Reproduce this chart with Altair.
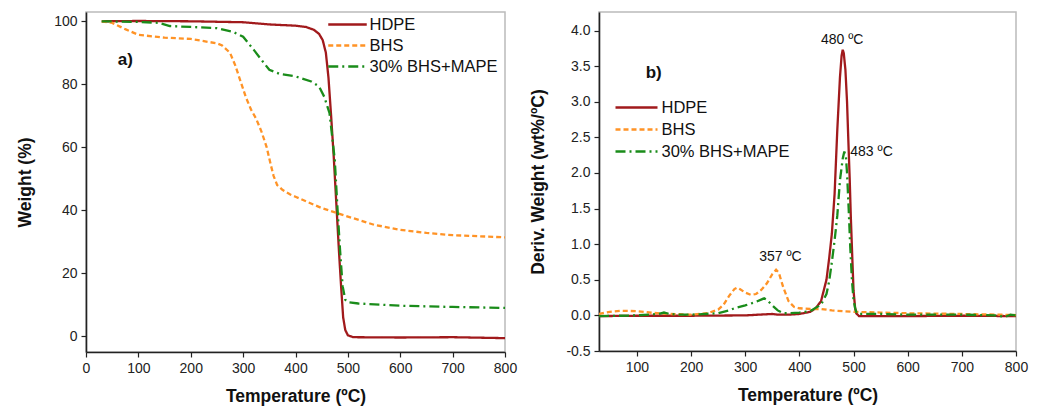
import altair as alt
import pandas as pd

SERIES = ["HDPE", "BHS", "30% BHS+MAPE"]
COLORS = ["#A11A1C", "#FF9326", "#1A8C1A"]
DASHES = [[1, 0], [5, 3], [10, 4, 2, 4]]

# ---- a) TGA: weight (%) vs temperature ----
tga_hdpe_T = [30, 100, 200, 300, 350, 400, 420, 435, 445, 452, 458, 463, 468, 473, 478, 483, 487, 491, 495, 500, 510, 600, 700, 800]
tga_hdpe_W = [100, 100.1, 100, 99.7, 99.0, 98.6, 98.2, 97.3, 96, 94, 90, 82, 70, 57, 42, 27, 16, 6, 2, 0.3, -0.3, -0.4, -0.3, -0.6]

tga_bhs_T = [30, 50, 75, 100, 150, 200, 250, 260, 275, 285, 295, 305, 315, 325, 335, 345, 352, 358, 365, 375, 390, 400, 450, 500, 550, 600, 650, 700, 800]
tga_bhs_W = [100, 99.5, 97.5, 95.7, 94.8, 94.4, 93, 92.3, 90, 86, 81, 76, 72, 69, 65, 60, 55, 51, 48, 46.5, 45, 44.3, 40.7, 38, 35.4, 33.8, 32.8, 32.1, 31.4]

tga_mix_T = [30, 100, 140, 160, 200, 250, 280, 300, 320, 340, 350, 370, 400, 430, 445, 455, 465, 470, 475, 480, 485, 490, 495, 500, 520, 600, 700, 800]
tga_mix_W = [100, 99.8, 99.5, 98.5, 98.2, 97.8, 96.7, 95.1, 91, 86.7, 84.6, 83.3, 82.5, 80.9, 79.3, 76, 70.8, 63.4, 56, 41, 27.5, 15.9, 11.6, 10.8, 10.4, 9.7, 9.3, 9.0]

# ---- b) DTG: derivative weight vs temperature ----
dtg_hdpe_T = [30, 100, 200, 300, 350, 360, 380, 400, 420, 430, 440, 450, 455, 460, 465, 470, 475, 478, 480, 482, 485, 488, 490, 493, 495, 498, 500, 503, 505, 510, 520, 600, 700, 800]
dtg_hdpe_V = [-0.01, -0.005, -0.005, 0.0, 0.02, 0.01, 0.01, 0.02, 0.05, 0.1, 0.2, 0.5, 0.8, 1.15, 1.7, 2.6, 3.35, 3.65, 3.73, 3.68, 3.45, 3.0, 2.55, 1.9, 1.38, 0.75, 0.35, 0.1, 0.03, -0.01, -0.01, -0.01, -0.005, -0.01]

dtg_bhs_T = [30, 50, 70, 100, 130, 160, 200, 230, 250, 260, 270, 280, 285, 290, 300, 310, 320, 330, 340, 350, 357, 362, 370, 380, 390, 400, 420, 440, 460, 500, 550, 600, 700, 800]
dtg_bhs_V = [0.02, 0.05, 0.065, 0.06, 0.035, 0.02, 0.01, 0.03, 0.08, 0.15, 0.27, 0.37, 0.39, 0.37, 0.32, 0.29, 0.3, 0.36, 0.45, 0.58, 0.64, 0.6, 0.4, 0.2, 0.12, 0.1, 0.09, 0.09, 0.07, 0.05, 0.04, 0.03, 0.02, 0.005]

dtg_mix_T = [30, 100, 140, 150, 160, 180, 200, 250, 270, 280, 300, 320, 335, 340, 350, 360, 370, 380, 400, 420, 440, 450, 455, 460, 465, 470, 475, 480, 483, 486, 488, 491, 494, 497, 500, 503, 506, 510, 550, 600, 700, 760, 780, 790, 800]
dtg_mix_V = [-0.01, 0.0, 0.02, 0.04, 0.02, 0.01, 0.01, 0.03, 0.07, 0.1, 0.14, 0.19, 0.24, 0.22, 0.14, 0.07, 0.03, 0.03, 0.04, 0.06, 0.15, 0.3, 0.48, 0.75, 1.05, 1.4, 1.9, 2.2, 2.3, 2.22, 2.0, 1.5, 0.95, 0.5, 0.22, 0.1, 0.03, 0.02, 0.02, 0.01, 0.01, 0.0, -0.02, 0.01, 0.0]

dtg_ticks = [-0.5, 0.0, 0.5, 1.0, 1.5, 2.0, 2.5, 3.0, 3.5, 4.0]

# ---- annotations ----
peak_center_T = [479, 365]
peak_center_V = [3.86, 0.82]
peak_center_text = ["480 ºC", "357 ºC"]
peak_left_T = [494]
peak_left_V = [2.29]
peak_left_text = ["483 ºC"]

FONT = "Liberation Sans"
LEGEND_LINE = "M-1.75,0H1.75"


def long_df(pairs, ycol):
    rows = []
    for name, (ts, vs) in zip(SERIES, pairs):
        for i, (t, v) in enumerate(zip(ts, vs)):
            rows.append({"Sample": name, "T": t, ycol: v, "i": i})
    return pd.DataFrame(rows)


tga = long_df([(tga_hdpe_T, tga_hdpe_W), (tga_bhs_T, tga_bhs_W), (tga_mix_T, tga_mix_W)], "W")
dtg = long_df([(dtg_hdpe_T, dtg_hdpe_V), (dtg_bhs_T, dtg_bhs_V), (dtg_mix_T, dtg_mix_V)], "V")


def legend(x, y, rp, size, lo):
    return alt.Legend(
        title=None, orient="none", legendX=x, legendY=y,
        symbolType=LEGEND_LINE, symbolSize=size, symbolStrokeWidth=2.5,
        labelFontSize=16.5, labelFont=FONT, labelColor="#111",
        rowPadding=rp, labelOffset=lo, padding=0,
    )


col_scale = alt.Scale(domain=SERIES, range=COLORS)
dash_scale = alt.Scale(domain=SERIES, range=DASHES)

# Left panel
lg_left = legend(249, 0, 0, 484, 9.5)
left_lines = alt.Chart(tga).mark_line(strokeWidth=2.3, clip=True).encode(
    x=alt.X("T:Q", scale=alt.Scale(domain=[0, 800], nice=False),
            axis=alt.Axis(values=list(range(0, 801, 100)), title="Temperature (ºC)")),
    y=alt.Y("W:Q", scale=alt.Scale(domain=[-5, 102.95], nice=False, zero=False),
            axis=alt.Axis(values=list(range(0, 101, 20)), title="Weight (%)",
                          labelOverlap=False, titlePadding=19)),
    color=alt.Color("Sample:N", scale=col_scale, legend=lg_left),
    strokeDash=alt.StrokeDash("Sample:N", scale=dash_scale, legend=lg_left),
    order="i:Q",
)
left_label = alt.Chart(pd.DataFrame({"T": [75], "W": [87.7], "t": ["a)"]})).mark_text(
    fontSize=17, fontWeight="bold", font=FONT, color="#111"
).encode(x="T:Q", y="W:Q", text="t:N")
left = alt.layer(left_lines, left_label).properties(width=419, height=340)

# Right panel
lg_right = legend(24, 82, 0, 576, 11.5)
right_lines = alt.Chart(dtg).mark_line(strokeWidth=2.3, clip=True).encode(
    x=alt.X("T:Q", scale=alt.Scale(domain=[30, 800], nice=False, zero=False),
            axis=alt.Axis(values=list(range(100, 801, 100)), title="Temperature (ºC)")),
    y=alt.Y("V:Q", scale=alt.Scale(domain=[-0.5, 4.26], nice=False, zero=False),
            axis=alt.Axis(values=dtg_ticks, tickCount=20, labelOverlap=False, titlePadding=18,
                          labelExpr="replace(format(datum.value, '.1f'), '\u2212', '-')",
                          title="Deriv. Weight (wt%/ºC)")),
    color=alt.Color("Sample:N", scale=col_scale, legend=lg_right),
    strokeDash=alt.StrokeDash("Sample:N", scale=dash_scale, legend=lg_right),
    order="i:Q",
)
ann_c = alt.Chart(pd.DataFrame({"T": peak_center_T, "V": peak_center_V, "t": peak_center_text})).mark_text(
    fontSize=14, font=FONT, color="#111", align="center"
).encode(x="T:Q", y="V:Q", text="t:N")
ann_l = alt.Chart(pd.DataFrame({"T": peak_left_T, "V": peak_left_V, "t": peak_left_text})).mark_text(
    fontSize=14, font=FONT, color="#111", align="left"
).encode(x="T:Q", y="V:Q", text="t:N")
right_label = alt.Chart(pd.DataFrame({"T": [131], "V": [3.41], "t": ["b)"]})).mark_text(
    fontSize=17, fontWeight="bold", font=FONT, color="#111"
).encode(x="T:Q", y="V:Q", text="t:N")
right = alt.layer(right_lines, ann_c, ann_l, right_label).properties(width=417, height=339)

chart = alt.hconcat(left, right, spacing=11).resolve_scale(
    color="independent", strokeDash="independent"
).resolve_legend(color="independent", strokeDash="independent").properties(
    padding={"left": 7, "top": 3, "right": 0, "bottom": 0}
).configure(font=FONT).configure_view(stroke="#bbbbbb", strokeWidth=1.5).configure_axis(
    grid=False, domainColor="#222", domainWidth=1.6, tickColor="#222", tickWidth=1.2, tickSize=5,
    labelFont=FONT, labelFontSize=14, labelColor="#222", labelPadding=4, labelOverlap=False,
    titleFont=FONT, titleFontSize=17.5, titleFontWeight="bold", titleColor="#111",
).configure_axisX(titlePadding=12, labelFlush=False)

chart.save("out.html", embed_options={"renderer": "svg", "actions": False})
